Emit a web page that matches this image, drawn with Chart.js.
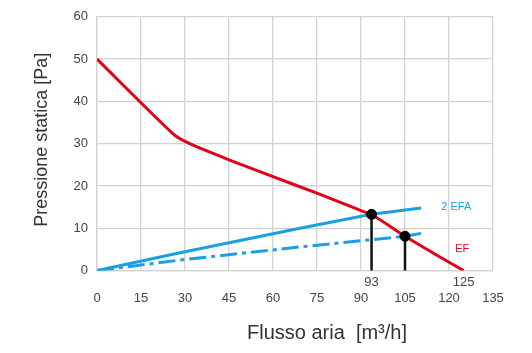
<!DOCTYPE html>
<html>
<head>
<meta charset="utf-8">
<script src="https://cdn.jsdelivr.net/npm/chart.js@4.4.1/dist/chart.umd.min.js"></script>
<style>
html,body{margin:0;padding:0;background:#fff;}
#wrap{width:532px;height:353px;position:relative;}
</style>
</head>
<body>
<div id="wrap"><canvas id="c" width="532" height="353"></canvas></div>
<script>
// ---- data ----
const efFlow = [0, 21, 24, 26.5, 29, 32, 36, 45, 60, 75, 90, 93.6, 105, 115, 125];
const efPressure = [50, 35.6, 33.6, 32.0, 30.9, 29.9, 28.7, 26.2, 22.2, 18.3, 14.2, 13.2, 8.1, 4.0, 0];
const efa2Flow = [0, 28.3, 69.2, 93.6, 110.5];
const efa2Pressure = [0, 4.2, 10.0, 13.3, 14.8];
const efa1Flow = [0, 28.3, 69.2, 105, 110.5];
const efa1Pressure = [0, 2.5, 5.6, 8.1, 8.8];
const workFlow = [93.6, 105];
const workPressure = [13.3, 8.1];
const markerLabels = ['93', '125'];
const markerValues = [93.6, 125];
const xTicks = [0, 15, 30, 45, 60, 75, 90, 105, 120, 135];
const yTicks = [0, 10, 20, 30, 40, 50, 60];
const seriesLabels = ['2 EFA', 'EF'];

const RED = '#e2001a';
const BLUE = '#1aa0e2';
const FONT = '"Liberation Sans", Arial, sans-serif';

const pts = (xs, ys) => xs.map((x, i) => ({x: x, y: ys[i]}));

const datasets = [
  {data: pts(efFlow, efPressure), borderColor: RED, borderWidth: 3, pointRadius: 0, cubicInterpolationMode: 'monotone', fill: false, order: 3},
  {data: pts(efa2Flow, efa2Pressure), borderColor: BLUE, borderWidth: 3, pointRadius: 0, tension: 0, fill: false, order: 4},
  {data: pts(efa1Flow, efa1Pressure), borderColor: BLUE, borderWidth: 3, pointRadius: 0, tension: 0, borderDash: [17, 5, 4, 5], fill: false, order: 5},
];
// vertical drop lines from working points to the axis
workFlow.forEach((x, i) => {
  datasets.push({data: [{x: x, y: workPressure[i]}, {x: x, y: -0.6}], borderColor: '#111', borderWidth: 2.5, pointRadius: 0, fill: false, order: 2});
});
datasets.push({type: 'scatter', data: pts(workFlow, workPressure), backgroundColor: '#000', borderColor: '#000', pointRadius: 5, order: 1});

const textPlugin = {
  id: 'texts',
  afterDraw(chart) {
    const ctx = chart.ctx;
    const xs = chart.scales.x, ys = chart.scales.y;
    ctx.save();
    // marker labels row
    ctx.fillStyle = '#444';
    ctx.font = '13px ' + FONT;
    ctx.textAlign = 'center';
    ctx.textBaseline = 'middle';
    markerLabels.forEach((t, i) => {
      ctx.fillText(t, xs.getPixelForValue(markerValues[i]), ys.bottom + 12);
    });
    // series labels
    ctx.font = '11px ' + FONT;
    ctx.fillStyle = BLUE;
    ctx.fillText(seriesLabels[0], xs.getPixelForValue(122.5), ys.getPixelForValue(15.1));
    ctx.fillStyle = RED;
    ctx.fillText(seriesLabels[1], xs.getPixelForValue(124.5), ys.getPixelForValue(5));
    // axis titles
    ctx.fillStyle = '#333';
    ctx.font = '20px ' + FONT;
    ctx.fillText('Flusso aria  [m\u00B3/h]', 327, 333);
    ctx.font = '18px ' + FONT;
    ctx.translate(42, (ys.top + ys.bottom) / 2 - 4);
    ctx.rotate(-Math.PI / 2);
    ctx.fillText('Pressione statica [Pa]', 0, 0);
    ctx.restore();
  }
};

new Chart(document.getElementById('c'), {
  type: 'line',
  data: {datasets: datasets},
  options: {
    responsive: false,
    animation: false,
    events: [],
    layout: {padding: {top: 14, right: 39, left: 0, bottom: 0}},
    plugins: {legend: {display: false}, tooltip: {enabled: false}},
    scales: {
      x: {
        type: 'linear', min: 0, max: 135,
        afterBuildTicks: (s) => { s.ticks = xTicks.map(v => ({value: v})); },
        afterFit: (s) => { s.height = 82.4; },
        grid: {color: '#d2d2d2', lineWidth: 1.3, drawTicks: false},
        border: {color: '#d2d2d2', width: 1.3},
        ticks: {padding: 20, color: '#444', font: {size: 13, family: FONT}, maxRotation: 0}
      },
      y: {
        type: 'linear', min: 0, max: 60,
        afterBuildTicks: (s) => { s.ticks = yTicks.map(v => ({value: v})); },
        afterFit: (s) => { s.width = 97; },
        grid: {color: '#d2d2d2', lineWidth: 1.3, drawTicks: false},
        border: {color: '#d2d2d2', width: 1.3},
        ticks: {padding: 9, color: '#444', font: {size: 13, family: FONT}}
      }
    }
  },
  plugins: [textPlugin]
});
</script>
</body>
</html>
